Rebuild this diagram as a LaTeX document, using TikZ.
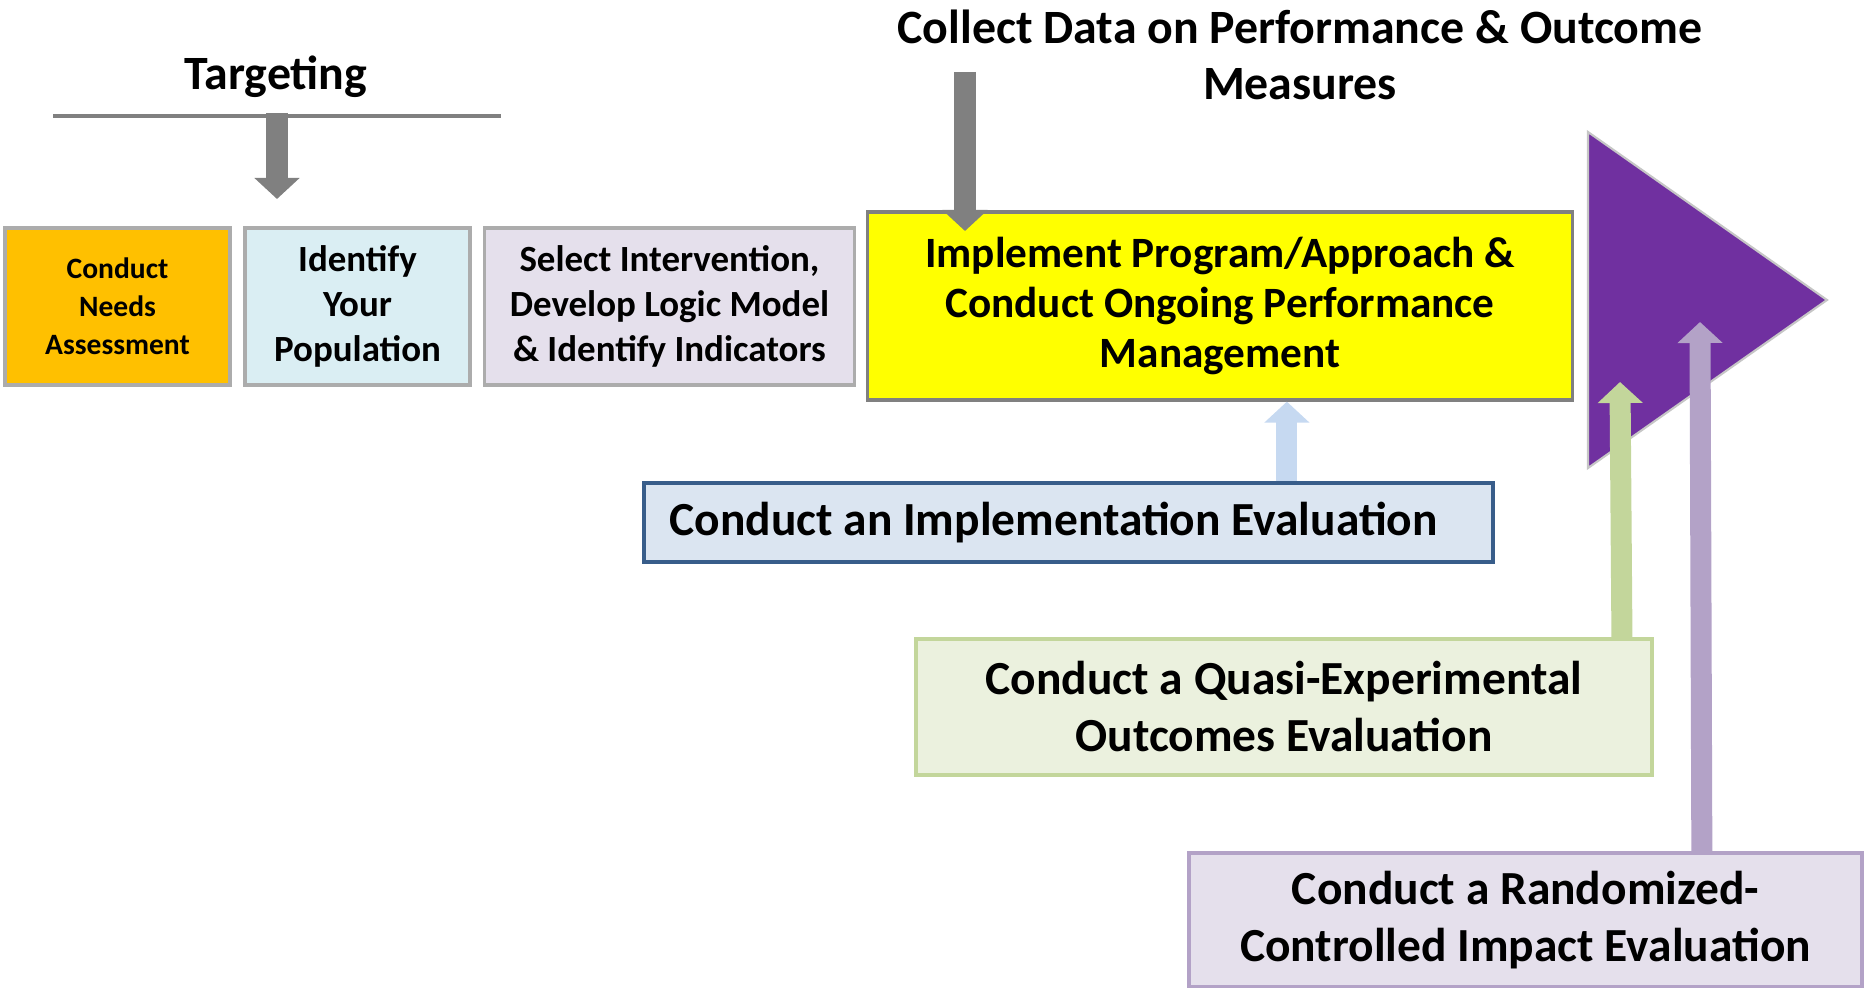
\documentclass[tikz,border=0pt]{standalone}
\usepackage{fontspec}
\setmainfont{Carlito}
\usetikzlibrary{arrows.meta}

\definecolor{needsorange}{HTML}{FFC000}
\definecolor{popblue}{HTML}{DAEEF3}
\definecolor{sellav}{HTML}{E5E0EC}
\definecolor{implyellow}{HTML}{FFFF00}
\definecolor{tripurple}{HTML}{7030A0}
\definecolor{evalblue}{HTML}{DBE5F1}
\definecolor{evalborder}{HTML}{385D8A}
\definecolor{arrowblue}{HTML}{C6D9F1}
\definecolor{quasigreen}{HTML}{EBF1DE}
\definecolor{arrowgreen}{HTML}{C3D69B}
\definecolor{rctlav}{HTML}{E5E0EC}
\definecolor{arrowlav}{HTML}{B3A2C7}
\definecolor{arrowgray}{HTML}{808080}

\tikzset{
  stepbox/.style={draw=gray!65, line width=0.9pt, align=center, inner sep=0pt, font=\bfseries},
  evalbox/.style={line width=1pt, align=center, inner sep=0pt, font=\fontsize{13.5}{16.2}\selectfont\bfseries},
  blockarrow/.style={line width=0.21cm, -{Triangle[length=0.21cm,width=0.44cm]}},
}

\begin{document}
\begin{tikzpicture}[x=0.01cm, y=-0.01cm]
\useasboundingbox (0,0) rectangle (1865,988);
% headings
\node[font=\fontsize{13.6}{16}\selectfont\bfseries, anchor=base] (targeting) at (276,90) {Targeting};
\node[font=\fontsize{13.6}{16}\selectfont\bfseries, align=center] (collect) at (1300,55) {Collect Data on Performance \& Outcome\\Measures};
\coordinate (tgl) at (53,116);
\coordinate (tgr) at (501,116);
\draw[arrowgray, line width=1pt] (tgl) -- (tgr);
% steps
\node[stepbox, fill=needsorange, minimum width=2.25cm, minimum height=1.57cm, font=\fontsize{8.4}{10.8}\selectfont\bfseries] (needs) at (117.5,306.5) {Conduct\\Needs\\Assessment};
\node[stepbox, fill=popblue, minimum width=2.25cm, minimum height=1.57cm, font=\fontsize{10.5}{12.8}\selectfont\bfseries] (popul) at (357.5,306.5) {Identify\\Your\\Population};
\node[stepbox, fill=sellav, minimum width=3.69cm, minimum height=1.57cm, font=\fontsize{10.5}{12.8}\selectfont\bfseries] (select) at (669.5,306.5) {Select Intervention,\\Develop Logic Model\\\& Identify Indicators};
\node[stepbox, draw=arrowgray, fill=implyellow, minimum width=7.04cm, minimum height=1.88cm, font=\fontsize{12.3}{14.2}\selectfont\bfseries] (implement) at (1220,306) {Implement Program/Approach \&\\Conduct Ongoing Performance\\Management};
% big purple triangle
\draw[fill=tripurple, draw=gray!45, line width=0.6pt] (1588,132) -- (1827,300) -- (1588,468) -- cycle;
% evaluations
\node[evalbox, draw=evalborder, fill=evalblue, minimum width=8.49cm, minimum height=0.79cm] (impleval) at (1068.5,522.5) {Conduct an Implementation Evaluation\hspace*{0.3cm}};
\node[evalbox, draw=arrowgreen, fill=quasigreen, minimum width=7.36cm, minimum height=1.36cm] (quasi) at (1284,707) {Conduct a Quasi-Experimental\\Outcomes Evaluation};
\node[evalbox, draw=arrowlav, fill=rctlav, minimum width=6.73cm, minimum height=1.34cm] (rct) at (1525.5,920) {Conduct a Randomized-\\Controlled Impact Evaluation};
% arrows
\coordinate (tgtop) at (277,113);
\coordinate (tgtip) at (277,199);
\draw[blockarrow, arrowgray] (tgtop) -- (tgtip);
\coordinate (coltop) at (965,72);
\coordinate (coltip) at (965,231);
\draw[blockarrow, arrowgray] (coltop) -- (coltip);
\coordinate (iefoot) at ([xshift=-2.08cm]impleval.north east);
\draw[blockarrow, arrowblue] (iefoot) -- (iefoot |- implement.south);
\coordinate (qfoot) at ([xshift=-0.32cm]quasi.north east);
\coordinate (qtip) at (1620,382);
\draw[blockarrow, arrowgreen] (qfoot) -- (qtip);
\coordinate (rfoot) at ([xshift=-1.62cm]rct.north east);
\coordinate (rtip) at (1700,322);
\draw[blockarrow, arrowlav] (rfoot) -- (rtip);
\end{tikzpicture}
\end{document}
